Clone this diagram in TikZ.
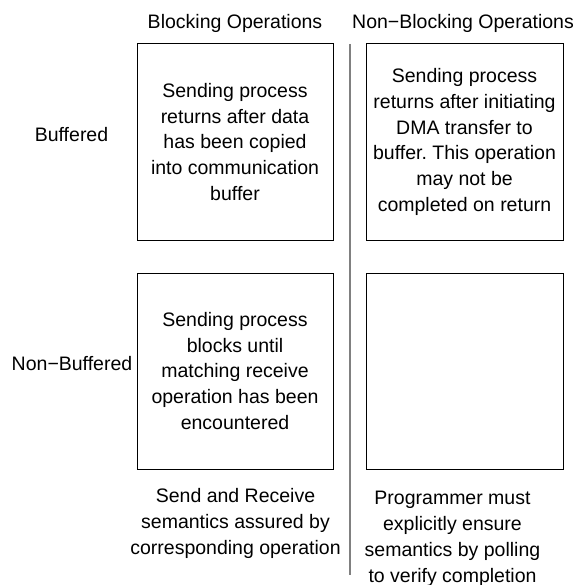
\documentclass[tikz,border=0pt]{standalone}
\usepackage{fontspec}
\setmainfont{Liberation Sans}
\usepackage{tikz}
\frenchspacing

\begin{document}
\begin{tikzpicture}[x = 1pt, y = -1pt]
\tikzstyle{label}=[font = \fontsize{19.5}{25.8}\selectfont, align = center, inner sep = 0pt]
\tikzstyle{box}=[label, draw, line width = 1pt, minimum width = 196pt, minimum height = 196pt]
\useasboundingbox (0,0) rectangle (578,585);
\node (HB) [label] at (235, 23)          {Blocking Operations};
\node (HN) [label] at (463, 23)          {Non−Blocking Operations};
\node (RB) [label] at (71.5, 135)        {Buffered};
\node (RN) [label] at (72, 364)          {Non−Buffered};
\node (BB) [box] at (235, 142)           {Sending process\\returns after data\\has been copied\\into communication\\buffer};
\node (BN) [box, minimum width = 197pt] at (464.5, 142) {Sending process\\returns after initiating\\DMA transfer to\\buffer. This operation\\may not be\\completed on return};
\node (NB) [box] at (235, 371)           {Sending process\\blocks until\\matching receive\\operation has been\\encountered};
\node (NN) [box, minimum width = 197pt] at (464.5, 371) {};
\node (CB) [label] at (235.5, 523.5)     {Send and Receive\\semantics assured by\\corresponding operation};
\node (CN) [label] at (452.5, 539)       {Programmer must\\explicitly ensure\\semantics by polling\\to verify completion};
\coordinate (top) at (350, 44);
\coordinate (bottom) at (350, 575);
\draw [gray, line width = 1.5pt] (top) -- (bottom);
\end{tikzpicture}
\end{document}
